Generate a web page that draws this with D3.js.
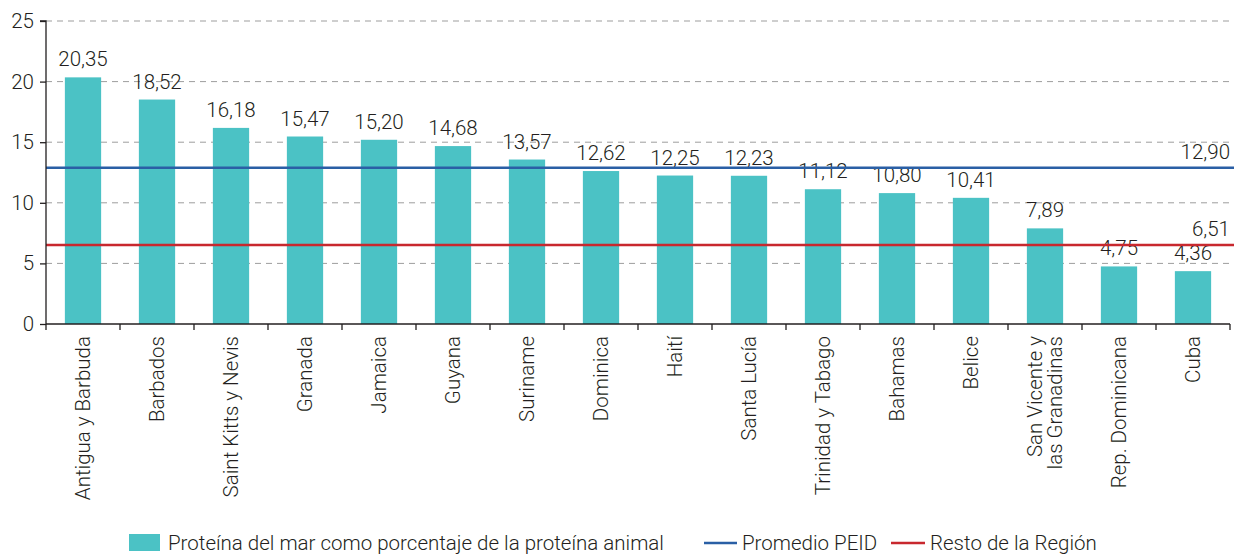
<!DOCTYPE html>
<html>
<head>
<meta charset="utf-8"/>
<script src="https://d3js.org/d3.v7.min.js"></script>
<style>
  body { margin: 0; background: #fff; }
  svg text { font-family: "Roboto", sans-serif; font-weight: 300; fill: #231f20; }
</style>
</head>
<body>
<svg id="chart" width="1244" height="556"></svg>
<script>
// data
var paises = ["Antigua y Barbuda", "Barbados", "Saint Kitts y Nevis", "Granada", "Jamaica", "Guyana",
  "Suriname", "Dominica", "Haití", "Santa Lucía", "Trinidad y Tabago", "Bahamas", "Belice",
  "San Vicente y|las Granadinas", "Rep. Dominicana", "Cuba"];
var valores = [20.35, 18.52, 16.18, 15.47, 15.20, 14.68, 13.57, 12.62, 12.25, 12.23, 11.12, 10.80, 10.41, 7.89, 4.75, 4.36];
var promedioPEID = 12.90;
var restoRegion = 6.51;
var yTicks = [0, 5, 10, 15, 20, 25];

var svg = d3.select("#chart");
var margin = {top: 21, left: 46, right: 10};
var plotBottom = 324;
var plotRight = 1230;
var fs = "20.5px";

var fmt = function(v) { return d3.format(".2f")(v).replace(".", ","); };

var x = d3.scaleBand().domain(paises).range([margin.left, plotRight]).paddingInner(0.51).paddingOuter(0.255);
var y = d3.scaleLinear().domain([0, 25]).range([plotBottom, margin.top]);

// grid lines
svg.append("g").selectAll("line")
  .data(yTicks.filter(function(d) { return d > 0; }))
  .enter().append("line")
  .attr("x1", margin.left).attr("x2", plotRight + 4)
  .attr("y1", function(d) { return y(d); }).attr("y2", function(d) { return y(d); })
  .style("stroke", "#9d9d9d").style("stroke-width", 1).style("stroke-dasharray", "6,5");

// bars
svg.append("g").selectAll("rect")
  .data(valores)
  .enter().append("rect")
  .attr("x", function(d, i) { return x(paises[i]); })
  .attr("width", x.bandwidth())
  .attr("y", function(d) { return y(d); })
  .attr("height", function(d) { return plotBottom - y(d); })
  .style("fill", "#4bc2c5");

// value labels
svg.append("g").selectAll("text")
  .data(valores)
  .enter().append("text")
  .attr("x", function(d, i) { return x(paises[i]) + x.bandwidth() / 2; })
  .attr("y", function(d) { return y(d) - 11; })
  .attr("text-anchor", "middle")
  .style("font-size", fs)
  .text(fmt);

// reference lines
var refs = [
  {v: promedioPEID, color: "#2a5fa5"},
  {v: restoRegion, color: "#c8282e"}
];
refs.forEach(function(r) {
  svg.append("line")
    .attr("x1", margin.left).attr("x2", plotRight + 4)
    .attr("y1", y(r.v)).attr("y2", y(r.v))
    .style("stroke", r.color).style("stroke-width", 2.5);
  svg.append("text")
    .attr("x", plotRight).attr("y", y(r.v) - 9)
    .attr("text-anchor", "end")
    .style("font-size", fs)
    .text(fmt(r.v));
});

// y axis
var yAxis = svg.append("g")
  .attr("transform", "translate(" + margin.left + ",0)")
  .call(d3.axisLeft(y).tickValues(yTicks).tickSize(6).tickPadding(6));
yAxis.attr("font-family", null).attr("font-size", null);
yAxis.select(".domain").attr("d", "M-6," + y(25) + "H0V" + plotBottom).style("stroke", "#231f20").style("stroke-width", 1.3);
yAxis.selectAll(".tick line").style("stroke", "#231f20").style("stroke-width", 1.3);
yAxis.selectAll(".tick text").style("font-size", fs);

// x axis
var ticksX = paises.map(function(p) { return x(p) - x.step() * x.paddingInner() / 2; }).concat([plotRight]);
var xAxis = svg.append("g");
xAxis.append("line")
  .attr("x1", margin.left).attr("x2", plotRight)
  .attr("y1", plotBottom).attr("y2", plotBottom)
  .style("stroke", "#231f20").style("stroke-width", 1.3);
xAxis.selectAll(".tk")
  .data(ticksX)
  .enter().append("line")
  .attr("class", "tk")
  .attr("x1", function(d) { return d; }).attr("x2", function(d) { return d; })
  .attr("y1", plotBottom).attr("y2", plotBottom + 6)
  .style("stroke", "#231f20").style("stroke-width", 1.3);

var lbl = xAxis.selectAll(".lbl")
  .data(paises)
  .enter().append("text")
  .attr("class", "lbl")
  .attr("transform", function(d) {
    return "translate(" + (x(d) + x.bandwidth() / 2) + "," + (plotBottom + 12) + ") rotate(-90)";
  })
  .attr("text-anchor", "end")
  .style("font-size", fs);
lbl.each(function(d) {
  var lines = d.split("|");
  var t = d3.select(this);
  lines.forEach(function(s, k) {
    t.append("tspan")
      .attr("x", 0)
      .attr("dy", k === 0 ? (lines.length === 1 ? "0.35em" : (0.35 - 0.5) + "em") : "1em")
      .text(s);
  });
});

// legend
var leg = svg.append("g").attr("transform", "translate(0,543)");
leg.append("rect").attr("x", 129).attr("y", -9).attr("width", 31).attr("height", 17).style("fill", "#4bc2c5");
leg.append("text").attr("x", 168).attr("y", 0).attr("dy", "0.35em").style("font-size", fs)
  .text("Proteína del mar como porcentaje de la proteína animal");
leg.append("line").attr("x1", 704).attr("x2", 737).attr("y1", 0).attr("y2", 0)
  .style("stroke", "#2a5fa5").style("stroke-width", 2.5);
leg.append("text").attr("x", 742).attr("y", 0).attr("dy", "0.35em").style("font-size", fs)
  .text("Promedio PEID");
leg.append("line").attr("x1", 891).attr("x2", 925).attr("y1", 0).attr("y2", 0)
  .style("stroke", "#c8282e").style("stroke-width", 2.5);
leg.append("text").attr("x", 930).attr("y", 0).attr("dy", "0.35em").style("font-size", fs)
  .text("Resto de la Región");
</script>
</body>
</html>
